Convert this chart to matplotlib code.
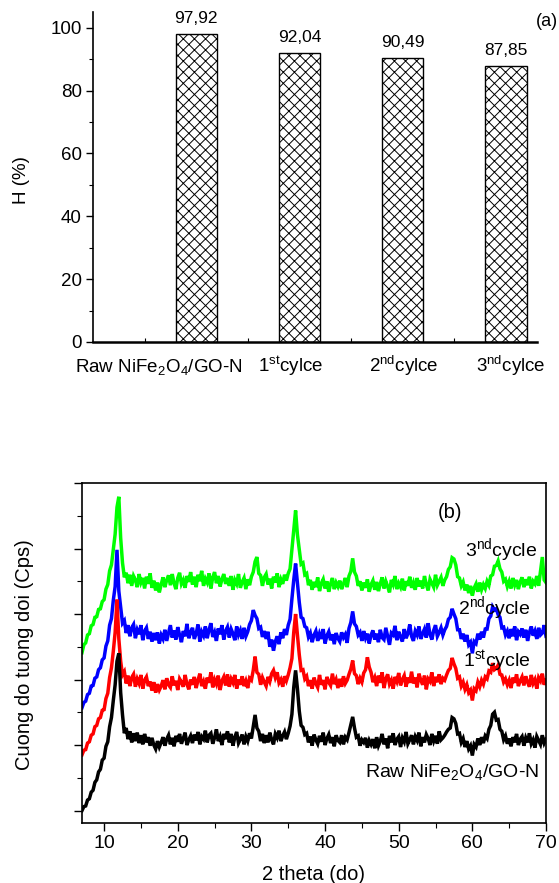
import numpy as np
import matplotlib
matplotlib.use("Agg")
import matplotlib.pyplot as plt
from matplotlib.ticker import MultipleLocator, FixedLocator
import matplotlib.transforms as mtransforms

plt.rcParams['font.family'] = ['Liberation Sans', 'DejaVu Sans']
plt.rcParams['mathtext.fontset'] = 'custom'
plt.rcParams['mathtext.rm'] = 'Liberation Sans'
plt.rcParams['mathtext.it'] = 'Liberation Sans:italic'
plt.rcParams['mathtext.bf'] = 'Liberation Sans:bold'
plt.rcParams['mathtext.default'] = 'regular'
plt.rcParams['hatch.linewidth'] = 0.7

# ---------------- data: panel (a) ----------------
categories = [r"Raw NiFe$_2$O$_4$/GO-N", r"1$^{st}$cylce", r"2$^{nd}$cylce", r"3$^{nd}$cylce"]
removal_H = [97.92, 92.04, 90.49, 87.85]
value_labels = ["97,92", "92,04", "90,49", "87,85"]

# ---------------- data: panel (b) ----------------
two_theta = np.linspace(7, 70, 253)   # 0.25 deg step
raw_xrd = [
    0, 6, 7, 16, 18, 28, 31, 43, 47, 59, 63, 77, 80, 98, 105, 128, 142, 168, 192, 228,
    240, 180, 146, 118, 126, 109, 121, 104, 118, 106, 119, 103, 115, 101, 117, 104, 112, 99, 111, 100,
    94, 106, 97, 104, 112, 99, 109, 115, 101, 111, 98, 114, 105, 117, 102, 110, 119, 100, 108, 114,
    103, 116, 107, 120, 101, 113, 109, 122, 104, 115, 118, 102, 111, 124, 106, 113, 100, 117, 109, 121,
    104, 117, 99, 112, 120, 103, 109, 116, 101, 113, 106, 118, 110, 128, 146, 126, 121, 106, 117, 103,
    115, 104, 119, 108, 101, 117, 111, 122, 106, 114, 120, 109, 118, 129, 147, 188, 214, 186, 152, 130,
    127, 116, 118, 104, 113, 99, 116, 108, 102, 114, 105, 119, 100, 110, 116, 103, 112, 98, 115, 107,
    104, 115, 101, 112, 108, 119, 131, 143, 126, 112, 114, 99, 108, 104, 111, 96, 107, 101, 109, 95,
    112, 99, 106, 117, 101, 110, 95, 114, 104, 118, 100, 109, 113, 97, 111, 105, 120, 102, 108, 115,
    101, 113, 107, 119, 98, 112, 104, 116, 110, 100, 117, 106, 114, 102, 121, 108, 111, 115, 120, 124,
    126, 142, 140, 133, 117, 118, 104, 110, 97, 106, 94, 99, 84, 101, 97, 110, 100, 112, 103, 114,
    110, 124, 130, 147, 150, 138, 139, 124, 121, 108, 114, 102, 110, 98, 112, 104, 117, 100, 109, 113,
    99, 111, 104, 118, 102, 108, 96, 113, 107, 101, 115, 103, 109,
]
cycle1_xrd = [
    85, 92, 93, 103, 105, 115, 117, 128, 130, 140, 142, 153, 154, 171, 179, 203, 218, 243, 272, 322,
    262, 228, 207, 212, 194, 206, 190, 203, 208, 189, 201, 194, 207, 186, 199, 204, 190, 197, 183, 196,
    180, 193, 184, 190, 199, 185, 202, 192, 188, 205, 191, 198, 184, 201, 196, 189, 207, 193, 185, 200,
    192, 204, 187, 199, 209, 190, 197, 186, 203, 195, 211, 188, 200, 193, 206, 184, 198, 204, 191, 208,
    189, 201, 195, 207, 186, 200, 192, 205, 190, 198, 187, 202, 199, 214, 235, 211, 208, 192, 203, 196,
    190, 204, 197, 209, 214, 203, 211, 195, 200, 189, 205, 198, 207, 218, 232, 272, 300, 268, 238, 214,
    215, 201, 205, 190, 199, 186, 203, 194, 188, 207, 192, 199, 185, 204, 196, 191, 209, 193, 200, 187,
    201, 189, 205, 194, 199, 208, 216, 229, 209, 206, 193, 202, 196, 210, 215, 234, 219, 211, 196, 203,
    190, 206, 195, 211, 187, 201, 208, 193, 199, 186, 204, 197, 210, 191, 200, 206, 189, 203, 195, 212,
    194, 203, 188, 209, 199, 192, 206, 185, 201, 197, 211, 190, 204, 196, 208, 193, 202, 199, 207, 214,
    217, 233, 224, 217, 202, 204, 190, 196, 185, 192, 180, 184, 168, 186, 183, 196, 189, 199, 193, 204,
    201, 213, 211, 225, 215, 217, 222, 208, 207, 196, 201, 192, 199, 187, 203, 195, 208, 190, 198, 204,
    191, 205, 196, 189, 207, 194, 200, 186, 203, 198, 209, 192, 199,
]
cycle2_xrd = [
    157, 165, 167, 177, 179, 190, 191, 202, 204, 215, 218, 230, 233, 251, 259, 283, 293, 321, 342, 398,
    335, 310, 286, 290, 271, 283, 266, 279, 284, 263, 276, 269, 283, 260, 274, 279, 262, 273, 258, 271,
    260, 272, 255, 268, 262, 276, 259, 271, 283, 264, 275, 261, 280, 268, 257, 274, 266, 285, 263, 272,
    279, 262, 270, 284, 258, 273, 267, 281, 263, 276, 286, 265, 272, 259, 278, 269, 283, 261, 274, 280,
    264, 277, 270, 260, 281, 268, 275, 262, 279, 266, 273, 284, 290, 306, 298, 293, 278, 280, 265, 274,
    262, 273, 250, 261, 244, 258, 266, 254, 272, 263, 277, 268, 283, 292, 323, 352, 377, 347, 318, 295,
    293, 281, 279, 265, 271, 257, 268, 274, 259, 270, 262, 277, 255, 267, 273, 260, 269, 254, 271, 263,
    258, 272, 264, 269, 256, 278, 287, 304, 285, 281, 268, 272, 259, 274, 263, 270, 255, 268, 275, 261,
    270, 257, 276, 264, 261, 279, 266, 253, 271, 268, 282, 260, 273, 265, 258, 277, 263, 270, 284, 266,
    259, 274, 268, 281, 262, 270, 277, 264, 286, 269, 261, 275, 283, 266, 272, 279, 268, 276, 281, 292,
    295, 308, 300, 293, 276, 276, 262, 270, 258, 268, 253, 257, 240, 258, 255, 270, 261, 273, 264, 277,
    277, 293, 297, 311, 306, 308, 299, 295, 279, 280, 268, 274, 263, 277, 266, 281, 260, 273, 269, 278,
    264, 276, 259, 272, 281, 267, 274, 262, 279, 268, 271, 283, 266,
]
cycle3_xrd = [
    241, 253, 256, 268, 270, 282, 284, 295, 296, 307, 308, 319, 322, 338, 345, 366, 375, 398, 422, 463,
    479, 416, 378, 356, 363, 347, 360, 343, 358, 352, 341, 361, 348, 355, 339, 357, 346, 362, 340, 351,
    336, 348, 333, 345, 356, 341, 352, 359, 344, 361, 347, 338, 355, 363, 346, 352, 340, 358, 349, 364,
    345, 357, 341, 360, 350, 366, 343, 354, 348, 362, 339, 356, 364, 347, 358, 342, 353, 361, 346, 355,
    343, 358, 337, 352, 346, 361, 340, 349, 355, 338, 353, 344, 357, 364, 380, 387, 362, 359, 343, 356,
    361, 345, 354, 339, 357, 348, 362, 341, 353, 346, 360, 351, 362, 369, 398, 428, 458, 421, 398, 376,
    378, 360, 362, 344, 352, 337, 349, 341, 356, 335, 347, 353, 339, 350, 334, 346, 355, 338, 348, 342,
    351, 338, 346, 355, 341, 358, 365, 385, 364, 358, 343, 350, 336, 348, 340, 353, 334, 345, 351, 337,
    349, 335, 346, 356, 339, 350, 342, 333, 352, 345, 358, 338, 347, 341, 354, 336, 350, 343, 357, 340,
    348, 337, 355, 342, 351, 339, 358, 345, 336, 353, 347, 341, 360, 344, 350, 356, 343, 352, 357, 368,
    372, 386, 384, 375, 357, 355, 343, 349, 336, 345, 332, 343, 328, 340, 346, 334, 348, 337, 345, 339,
    350, 344, 358, 360, 373, 374, 381, 369, 364, 350, 353, 342, 350, 339, 355, 344, 352, 338, 349, 356,
    341, 353, 344, 357, 339, 350, 346, 358, 343, 365, 387, 352, 348,
]
series_names = [r"Raw NiFe$_2$O$_4$/GO-N", r"1$^{st}$cycle", r"2$^{nd}$cycle", r"3$^{nd}$cycle"]
series_colors = ["black", "#ff0000", "#0000ff", "#00ff00"]
for s in (raw_xrd, cycle1_xrd, cycle2_xrd, cycle3_xrd):
    assert len(s) == len(two_theta), len(s)

W, H = 559, 883
fig = plt.figure(figsize=(W / 100, H / 100), dpi=100)

# ================= panel (a) =================
ax1 = fig.add_axes([93 / W, 1 - 342 / H, 444 / W, 330 / H])
bar_x = np.arange(1, len(removal_H) + 1)
ax1.bar(bar_x, removal_H, width=0.4, color='white', edgecolor='black',
        hatch='xxx', linewidth=1.0)
ax1.set_xlim(0, 4.3)
ax1.set_ylim(0, 105)
for sp in ['top', 'right']:
    ax1.spines[sp].set_visible(False)
ax1.spines['left'].set_linewidth(1.2)
ax1.spines['bottom'].set_linewidth(1.8)
ax1.yaxis.set_major_locator(FixedLocator([0, 20, 40, 60, 80, 100]))
ax1.yaxis.set_minor_locator(FixedLocator([10, 30, 50, 70, 90]))
ax1.tick_params(axis='y', which='major', direction='out', length=5, width=1.0,
                labelsize=13.5, pad=3)
ax1.tick_params(axis='y', which='minor', direction='out', length=3, width=0.8)
ax1.set_xticks([])
ax1.xaxis.set_minor_locator(FixedLocator([0.5, 1.5, 2.5, 3.5]))
ax1.tick_params(axis='x', which='minor', direction='in', length=3, width=0.8)

for xb, v, lab in zip(bar_x, removal_H, value_labels):
    ax1.annotate(lab, (xb, v), xytext=(0, 11), textcoords='offset points',
                 ha='center', va='center', fontsize=12.5)

trans1 = mtransforms.blended_transform_factory(ax1.transData, ax1.transAxes)
label_x = [0.64, 1.91, 3.01, 4.05]
for lx, cat in zip(label_x, categories):
    ax1.text(lx, -30 / 330, cat, transform=trans1, ha='center', va='baseline',
             fontsize=13.5, clip_on=False)

fig.text(547 / W, 1 - 22 / H, '(a)', ha='center', va='center', fontsize=13)
fig.text(22 / W, 1 - 180 / H, 'H (%)', ha='center', va='center', rotation=90, fontsize=13.5)

# ================= panel (b) =================
ax2 = fig.add_axes([82 / W, 1 - 823 / H, 464 / W, 340 / H])
for ys, c in zip([cycle3_xrd, cycle2_xrd, cycle1_xrd, raw_xrd],
                 [series_colors[3], series_colors[2], series_colors[1], series_colors[0]]):
    ax2.plot(two_theta, ys, color=c, linewidth=2.5, solid_joinstyle='miter')
ax2.set_xlim(7, 70)
ax2.set_ylim(-19, 500)
for sp in ax2.spines.values():
    sp.set_linewidth(1.2)
ax2.xaxis.set_major_locator(MultipleLocator(10))
ax2.xaxis.set_minor_locator(MultipleLocator(5))
ax2.yaxis.set_major_locator(MultipleLocator(100))
ax2.yaxis.set_minor_locator(MultipleLocator(50))
ax2.tick_params(axis='both', which='major', direction='out', length=6, width=1.0,
                labelsize=14, pad=3)
ax2.tick_params(axis='both', which='minor', direction='out', length=3.5, width=0.8)
ax2.tick_params(axis='y', labelleft=False)

fig.text(450 / W, 1 - 513 / H, '(b)', ha='center', va='center', fontsize=14.5)
label_pos_b = [(365, 777), (463, 667), (458, 614), (465, 556)]
for (px, py), name in zip(label_pos_b, series_names):
    fig.text(px / W, 1 - py / H, name, ha='left', va='baseline', fontsize=14)

fig.text(313 / W, 1 - 874 / H, '2 theta (do)', ha='center', va='center', fontsize=14.5)
fig.text(25 / W, 1 - 655 / H, 'Cuong do tuong doi (Cps)', ha='center', va='center',
         rotation=90, fontsize=14.5)

fig.savefig('out.png', dpi=100)
